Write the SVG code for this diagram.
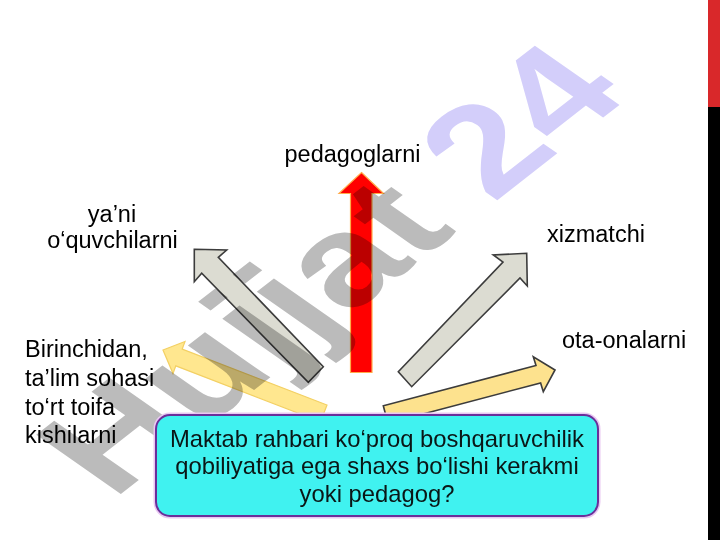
<svg xmlns="http://www.w3.org/2000/svg" width="720" height="540" viewBox="0 0 720 540">
<style>
.lbl{font-family:"Liberation Sans",Arial,sans-serif;font-size:23.5px;fill:#000}
.box-t{font-family:"Liberation Sans",Arial,sans-serif;font-size:23.8px;fill:#0a1616;text-anchor:middle}
.gray{fill:#dcdcd2;stroke:#3c3c3c;stroke-width:1.6;stroke-linejoin:miter}
.wm{font-family:"Liberation Sans",Arial,sans-serif;font-weight:bold;font-size:150px}
</style>
<rect x="0" y="0" width="720" height="540" fill="#fff"/>
<g id="side-bar">
<rect x="708" y="0" width="12" height="107" fill="#d9282a"/>
<rect x="708" y="107" width="12" height="433" fill="#000"/>
</g>
<g id="connectors">
<polygon id="arrow-pedagog" points="361.5,172.5 383.5,193.5 372,193.5 372,372.5 350.5,372.5 350.5,193.5 339,193.5" fill="#ff0000" stroke="#ffab4a" stroke-width="1.2"/>
<polygon id="arrow-oquvchi" class="gray" points="194.3,249.3 226.7,250 218.3,257.3 323.3,366.7 308.3,382.3 201.7,273.3 194.3,281.7"/>
<polygon id="arrow-xizmatchi" class="gray" points="526.7,253.3 527.3,286 520,278 411.7,386.7 398.3,371.7 503,262 493.3,255"/>
<polygon id="arrow-birinchi" points="163,350 185,341.5 182.2,349.1 327,405 320.5,421.8 175.8,365.9 173,373.5" fill="#ffe78f" stroke="#f3d064" stroke-width="1.2"/>
<polygon id="arrow-ota" points="555,370 533.3,356.7 536,365.5 383.3,405.8 387.9,423.2 540.6,382.9 543.3,391.7" fill="#fde28e" stroke="#3c3c3c" stroke-width="1.6"/>
</g>
<g id="label-pedagoglarni"><text class="lbl" x="352.5" y="162" text-anchor="middle">pedagoglarni</text></g>
<g id="label-oquvchilarni"><text class="lbl" text-anchor="middle"><tspan x="112" y="222">ya’ni</tspan><tspan x="112.5" y="248">o‘quvchilarni</tspan></text></g>
<g id="label-xizmatchi"><text class="lbl" x="547" y="242">xizmatchi</text></g>
<g id="label-ota"><text class="lbl" x="562" y="348">ota-onalarni</text></g>
<g id="label-birinchidan"><text class="lbl"><tspan x="25" y="357">Birinchidan,</tspan><tspan x="25" y="385.8">ta’lim sohasi</tspan><tspan x="25" y="414.6">to‘rt toifa</tspan><tspan x="25" y="443.4">kishilarni</tspan></text></g>
<g id="watermark" style="mix-blend-mode:multiply">
<text class="wm" transform="matrix(0.83 -0.648 0.819 0.574 372 298)" text-anchor="middle"><tspan fill="#bbbbbb">Hujjat </tspan><tspan fill="#d3cefa">24</tspan></text>
</g>
<g id="question">
<rect x="156" y="415" width="442" height="101" rx="14" fill="none" stroke="#e9c8f2" stroke-width="5"/>
<rect x="156" y="415" width="442" height="101" rx="14" fill="#40f2f0" stroke="#6a2f9a" stroke-width="2"/>
<text class="box-t"><tspan x="377" y="446.5">Maktab rahbari ko‘proq boshqaruvchilik</tspan><tspan x="377" y="474">qobiliyatiga ega shaxs bo‘lishi kerakmi</tspan><tspan x="377" y="501.5">yoki pedagog?</tspan></text>
</g>
</svg>
